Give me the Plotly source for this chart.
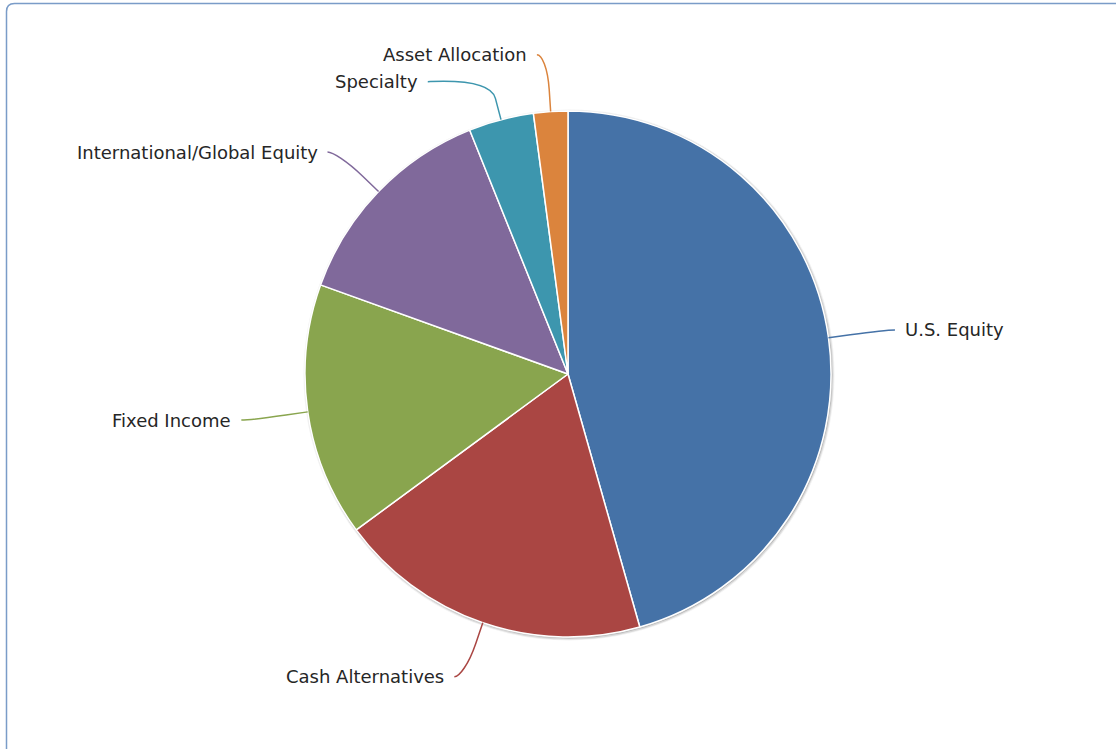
import math
import plotly.graph_objects as go

# Portfolio allocation by asset class (percent of total)
categories = ["U.S. Equity", "Cash Alternatives", "Fixed Income",
              "International/Global Equity", "Specialty", "Asset Allocation"]
values = [45.6, 19.3, 15.6, 13.4, 4.0, 2.1]
colors = ["#4572A7", "#AA4643", "#89A54E", "#80699B", "#3D96AE", "#DB843D"]

W, H = 1116, 749
CX, CY, R = 568, 374, 263          # pie centre and radius, in pixels
LABEL_R = R + 57                    # radius used to place the outside labels
BREAK_R = R + 22                    # where the connector bends
MIN_GAP = 27                        # minimum vertical spacing between labels


def px(x):
    return x / W


def py(y):
    return 1 - y / H


fig = go.Figure(go.Pie(
    labels=categories,
    values=values,
    sort=False,
    direction="clockwise",
    rotation=0,
    marker=dict(colors=colors, line=dict(color="#FFFFFF", width=1.5)),
    textinfo="none",
    hoverinfo="label+percent",
    showlegend=False,
    domain=dict(x=[px(CX - R), px(CX + R)], y=[py(CY + R), py(CY - R)]),
))

shapes = []
annotations = []

# soft drop shadow around the pie
for off, w, op in [(1, 5, 0.05), (1, 3, 0.10), (1, 1, 0.15)]:
    shapes.append(dict(
        type="circle", xref="paper", yref="paper", layer="below",
        x0=px(CX - R + off), x1=px(CX + R + off),
        y0=py(CY + R + off), y1=py(CY - R + off),
        line=dict(color=f"rgba(0,0,0,{op})", width=w),
        fillcolor="rgba(0,0,0,0)",
    ))

# outer frame with a rounded top-left corner
fr = 8
fx, fy = 6.5, 3.5
shapes.append(dict(
    type="path", xref="paper", yref="paper",
    path=(f"M {px(fx)},{py(H + 2)} L {px(fx)},{py(fy + fr)} "
          f"Q {px(fx)},{py(fy)} {px(fx + fr)},{py(fy)} L {px(W + 2)},{py(fy)}"),
    line=dict(color="#7A9CC8", width=1.5),
))

# label positions from slice mid-angles
total = sum(values)
cum = 0
items = []
for name, v, c in zip(categories, values, colors):
    mid = (cum + v / 2) / total * 2 * math.pi   # clockwise from 12 o'clock
    cum += v
    s, co = math.sin(mid), -math.cos(mid)
    items.append(dict(name=name, color=c, s=s, co=co,
                      left=s < 0, y=CY + LABEL_R * co))

# keep labels on each side from overlapping (push downwards)
for side in (True, False):
    grp = sorted([it for it in items if it["left"] == side], key=lambda it: it["y"])
    for a, b in zip(grp, grp[1:]):
        if b["y"] - a["y"] < MIN_GAP:
            b["y"] = a["y"] + MIN_GAP

for it in items:
    sign = -1 if it["left"] else 1
    ratio = max(-1.0, min(1.0, (it["y"] - CY) / LABEL_R))
    lx = CX + sign * math.cos(math.asin(ratio)) * LABEL_R
    ly = it["y"]
    cx_end = lx + sign * 10        # connector end next to the label
    tx = lx + sign * 18            # label text anchor
    touch = (CX + R * it["s"], CY + R * it["co"])
    brk = (CX + BREAK_R * it["s"], CY + BREAK_R * it["co"])
    c1 = (cx_end - sign * 5, ly)
    c2 = (2 * brk[0] - touch[0], 2 * brk[1] - touch[1])
    path = (f"M {px(cx_end)},{py(ly)} "
            f"C {px(c1[0])},{py(c1[1])} {px(c2[0])},{py(c2[1])} {px(brk[0])},{py(brk[1])} "
            f"L {px(touch[0])},{py(touch[1])}")
    shapes.append(dict(type="path", xref="paper", yref="paper", path=path,
                       line=dict(color=it["color"], width=1.5)))
    annotations.append(dict(
        x=px(tx), y=py(ly), xref="paper", yref="paper",
        text=it["name"], showarrow=False,
        xanchor="right" if it["left"] else "left", yanchor="middle",
        font=dict(family="DejaVu Sans", size=18, color="#262626"),
    ))

fig.update_layout(
    width=W, height=H,
    margin=dict(l=0, r=0, t=0, b=0),
    paper_bgcolor="#FFFFFF",
    plot_bgcolor="#FFFFFF",
    shapes=shapes,
    annotations=annotations,
)

fig.write_html("out.html")
